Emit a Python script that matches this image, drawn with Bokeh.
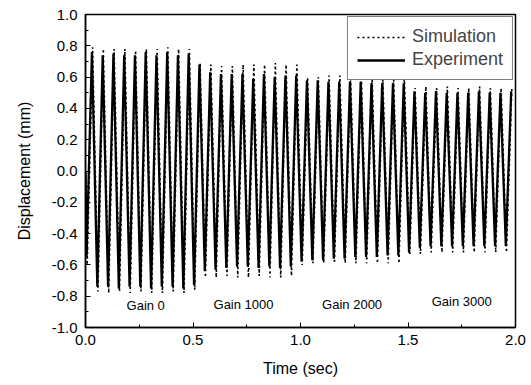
from bokeh.plotting import figure
from bokeh.models import Range1d, FixedTicker, PrintfTickFormatter, Legend, LegendItem, ColumnDataSource
from bokeh.core.properties import value
from bokeh.embed import file_html
from bokeh.resources import INLINE

# Peak / trough times (s) (20 Hz excitation)
peak_t = [0.03, 0.08, 0.13, 0.18, 0.23, 0.28, 0.33, 0.38, 0.43, 0.48,
          0.53, 0.58, 0.63, 0.68, 0.73, 0.78, 0.83, 0.88, 0.93, 0.98,
          1.03, 1.08, 1.13, 1.18, 1.23, 1.28, 1.33, 1.38, 1.43, 1.48,
          1.53, 1.58, 1.63, 1.68, 1.73, 1.78, 1.83, 1.88, 1.93, 1.98]
trough_t = [0.005, 0.055, 0.105, 0.155, 0.205, 0.255, 0.305, 0.355, 0.405, 0.455,
            0.505, 0.555, 0.605, 0.655, 0.705, 0.755, 0.805, 0.855, 0.905, 0.955,
            1.005, 1.055, 1.105, 1.155, 1.205, 1.255, 1.305, 1.355, 1.405, 1.455,
            1.505, 1.555, 1.605, 1.655, 1.705, 1.755, 1.805, 1.855, 1.905, 1.955]

exp_peaks = [0.76, 0.74, 0.75, 0.74, 0.74, 0.76, 0.74, 0.76, 0.74, 0.75,
             0.68, 0.63, 0.62, 0.62, 0.62, 0.59, 0.62, 0.60, 0.61, 0.61,
             0.58, 0.58, 0.57, 0.57, 0.57, 0.57, 0.56, 0.56, 0.56, 0.56,
             0.51, 0.50, 0.51, 0.50, 0.50, 0.50, 0.51, 0.50, 0.50, 0.51]
sim_peaks = [0.79, 0.78, 0.78, 0.78, 0.77, 0.78, 0.78, 0.79, 0.78, 0.78,
             0.69, 0.68, 0.67, 0.67, 0.68, 0.68, 0.68, 0.69, 0.68, 0.68,
             0.60, 0.60, 0.61, 0.61, 0.61, 0.61, 0.60, 0.60, 0.60, 0.60,
             0.53, 0.54, 0.53, 0.54, 0.53, 0.53, 0.54, 0.53, 0.53, 0.53]
exp_troughs = [-0.55, -0.74, -0.74, -0.75, -0.74, -0.74, -0.75, -0.74, -0.74, -0.75,
               -0.73, -0.64, -0.63, -0.62, -0.61, -0.61, -0.62, -0.61, -0.62, -0.61,
               -0.58, -0.57, -0.57, -0.56, -0.56, -0.55, -0.55, -0.55, -0.54, -0.54,
               -0.52, -0.49, -0.48, -0.48, -0.48, -0.48, -0.48, -0.48, -0.48, -0.48]
sim_troughs = [-0.60, -0.77, -0.78, -0.77, -0.78, -0.77, -0.78, -0.78, -0.77, -0.78,
               -0.76, -0.68, -0.68, -0.67, -0.68, -0.68, -0.67, -0.68, -0.68, -0.67,
               -0.60, -0.59, -0.59, -0.59, -0.59, -0.59, -0.59, -0.59, -0.59, -0.59,
               -0.54, -0.53, -0.52, -0.52, -0.52, -0.52, -0.52, -0.52, -0.52, -0.52]
# small lag of the simulated response relative to the measured one (s)
sim_lag = 0.003

gain_x = [0.28, 0.735, 1.24, 1.75]
gain_y = [-0.86, -0.855, -0.85, -0.835]
gain_text = ["Gain 0", "Gain 1000", "Gain 2000", "Gain 3000"]

x_ticks = [0.0, 0.5, 1.0, 1.5, 2.0]
y_ticks = [-1.0, -0.8, -0.6, -0.4, -0.2, 0.0, 0.2, 0.4, 0.6, 0.8, 1.0]


def zigzag(tt, tv, pt, pv, lag=0.0):
    xs, ys = [0.0], [0.0]
    for a, b, c, d in zip(tt, tv, pt, pv):
        xs += [a + lag, c + lag]
        ys += [b, d]
    return xs, ys


ex, ey = zigzag(trough_t, exp_troughs, peak_t, exp_peaks)
sx, sy = zigzag(trough_t, sim_troughs, peak_t, sim_peaks, sim_lag)

FONT = "Liberation Sans"

p = figure(width=531, height=385, output_backend="svg", toolbar_location=None,
           x_range=Range1d(0, 2), y_range=Range1d(-1, 1),
           min_border_left=85, min_border_right=16, min_border_top=14, min_border_bottom=58)
p.grid.visible = False
p.outline_line_color = "black"
p.outline_line_width = 1.5
p.outline_line_alpha = 1.0
p.background_fill_color = "white"
p.border_fill_color = "white"

r_sim = p.line(sx, sy, line_color="black", line_width=1.6, line_dash="2 3")
r_exp = p.line(ex, ey, line_color="black", line_width=2.3)

p.text(x="x", y="y", text="t", source=ColumnDataSource(dict(x=gain_x, y=gain_y, t=gain_text)),
       text_font=value(FONT), text_font_size="13px", text_align="center", text_baseline="middle",
       text_color="black")

for ax in (p.xaxis[0], p.yaxis[0]):
    ax.axis_line_color = "black"
    ax.axis_line_width = 1.5
    ax.major_tick_in = 5
    ax.major_tick_out = 0
    ax.minor_tick_in = 3
    ax.minor_tick_out = 0
    ax.major_tick_line_color = "black"
    ax.minor_tick_line_color = "black"
    ax.major_label_text_font = FONT
    ax.major_label_text_font_size = "15px"
    ax.major_label_text_color = "black"
    ax.axis_label_text_font = FONT
    ax.axis_label_text_font_size = "16px"
    ax.axis_label_text_font_style = "normal"
    ax.axis_label_text_color = "black"
    ax.formatter = PrintfTickFormatter(format="%.1f")

p.xaxis.ticker = FixedTicker(ticks=x_ticks, minor_ticks=[0.25, 0.75, 1.25, 1.75])
p.yaxis.ticker = FixedTicker(ticks=y_ticks, minor_ticks=[-0.9, -0.7, -0.5, -0.3, -0.1, 0.1, 0.3, 0.5, 0.7, 0.9])
p.xaxis.axis_label = "Time (sec)"
p.yaxis.axis_label = "Displacement (mm)"
p.xaxis.major_label_standoff = 7
p.xaxis.axis_label_standoff = 12
p.yaxis.major_label_standoff = 8
p.yaxis.axis_label_standoff = 16

legend = Legend(items=[LegendItem(label="Simulation", renderers=[r_sim]),
                       LegendItem(label="Experiment", renderers=[r_exp])],
                location="top_right")
legend.margin = 2
legend.padding = 9
legend.spacing = 2
legend.label_height = 20
legend.glyph_height = 20
legend.glyph_width = 48
legend.label_standoff = 7
legend.label_text_font = FONT
legend.label_text_font_size = "18px"
legend.border_line_color = "black"
legend.border_line_width = 1.2
legend.background_fill_alpha = 1.0
p.add_layout(legend)

open("out.html", "w").write(file_html(p, INLINE))
